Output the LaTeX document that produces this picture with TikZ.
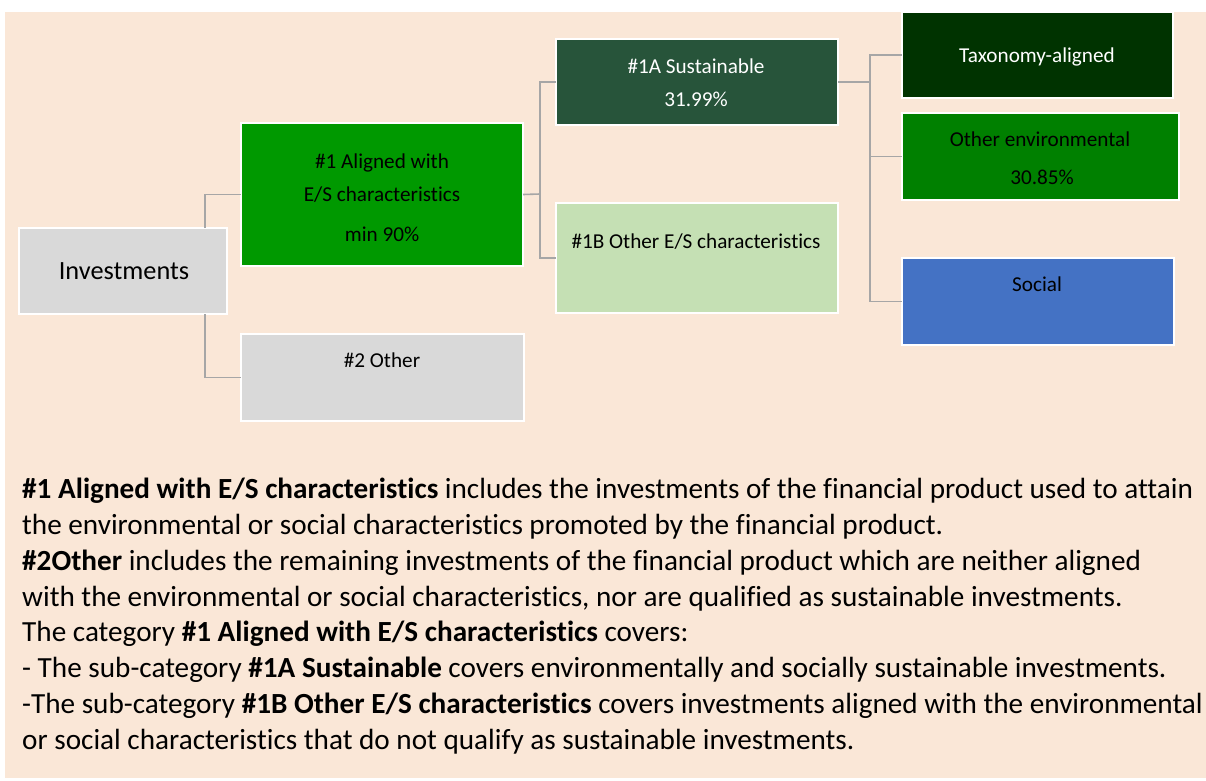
\documentclass[tikz,border=0pt]{standalone}
\usepackage{fontspec}
\setmainfont[Ligatures={NoCommon}]{Carlito}
\definecolor{bgc}{HTML}{FAE7D7}
\definecolor{grayc}{HTML}{D9D9D9}
\definecolor{galigned}{HTML}{009900}
\definecolor{gsust}{HTML}{27543A}
\definecolor{glight}{HTML}{C5E0B4}
\definecolor{gtax}{HTML}{003300}
\definecolor{genv}{HTML}{008000}
\definecolor{bsoc}{HTML}{4472C4}
\definecolor{lineg}{HTML}{A6A6A6}
\begin{document}
\begin{tikzpicture}[x=1pt,y=-1pt,
  box/.style={draw=white, line width=2.5pt, anchor=north west, inner sep=0pt, outer sep=0pt},
  conn/.style={draw=lineg, line width=1.6pt},
  lbl/.style={font=\fontsize{21.2}{25}\selectfont, inner sep=0pt, anchor=base},
  para/.style={font=\fontsize{29.2}{35}\selectfont, inner sep=0pt, anchor=base west}]
\useasboundingbox (0,0) rectangle (1206,780);
\fill[bgc] (5,12) rectangle (1206,778);
% boxes
\node[box, fill=grayc, minimum width=208pt, minimum height=86pt] (inv) at (19,228) {};
\node[box, fill=galigned, minimum width=282pt, minimum height=143pt] (a1) at (241,123) {};
\node[box, fill=grayc, minimum width=283pt, minimum height=87pt] (oth) at (241,334) {};
\node[box, fill=gsust, minimum width=282pt, minimum height=86pt] (s1a) at (556,39) {};
\node[box, fill=glight, minimum width=282pt, minimum height=110pt] (s1b) at (556,203) {};
\node[box, fill=gtax, minimum width=271pt, minimum height=86pt] (tax) at (902,12) {};
\node[box, fill=genv, minimum width=277pt, minimum height=87pt] (oenv) at (902,113) {};
\node[box, fill=bsoc, minimum width=272pt, minimum height=87pt] (soc) at (902,258) {};
% connectors
\coordinate (j1) at (205,194);
\draw[conn] (inv.north -| j1) |- (a1.west);
\draw[conn] (inv.south -| j1) |- (oth.west);
\coordinate (j2) at (540,194);
\draw[conn] (a1.east) -- (j2);
\draw[conn] (j2) |- (s1a.west);
\draw[conn] (j2) |- (s1b.west);
\coordinate (j3) at (870,82);
\draw[conn] (s1a.east) -- (j3);
\draw[conn] (j3) |- (tax.west);
\draw[conn] (j3) |- (oenv.west);
\draw[conn] (j3) |- (soc.west);
% labels
\node[lbl, font=\fontsize{26.3}{30}\selectfont] (tinv) at (124,279) {Investments};
\node[lbl] (ta1a) at (382,168) {\#1 Aligned with};
\node[lbl] (ta1b) at (382,201) {E/S characteristics};
\node[lbl] (ta1c) at (382,241) {min 90\%};
\node[lbl] (toth) at (382,367) {\#2 Other};
\node[lbl, text=white] (ts1aa) at (696,73) {\#1A Sustainable};
\node[lbl, text=white] (ts1ab) at (696,106) {31.99\%};
\node[lbl] (ts1b) at (696,248) {\#1B Other E/S characteristics};
\node[lbl, text=white] (ttax) at (1037,62) {Taxonomy-aligned};
\node[lbl] (toenva) at (1040,146) {Other environmental};
\node[lbl] (toenvb) at (1042,184) {30.85\%};
\node[lbl] (tsoc) at (1037,291) {Social};
% paragraph
\node[para] (p1) at (22,498) {\textbf{\#1 Aligned with E/S characteristics} includes the investments of the financial product used to attain};
\node[para] (p2) at (22,534) {the environmental or social characteristics promoted by the financial product.};
\node[para] (p3) at (22,570) {\textbf{\#2Other} includes the remaining investments of the financial product which are neither aligned};
\node[para] (p4) at (22,606) {with the environmental or social characteristics, nor are qualified as sustainable investments.};
\node[para] (p5) at (22,641) {The category \textbf{\#1 Aligned with E/S characteristics} covers:};
\node[para] (p6) at (22,677) {- The sub-category \textbf{\#1A Sustainable} covers environmentally and socially sustainable investments.};
\node[para] (p7) at (22,713) {-The sub-category \textbf{\#1B Other E/S characteristics} covers investments aligned with the environmental};
\node[para] (p8) at (22,749) {or social characteristics that do not qualify as sustainable investments.};
\end{tikzpicture}
\end{document}
